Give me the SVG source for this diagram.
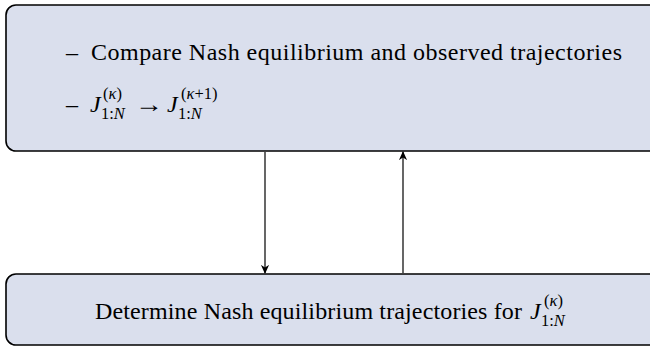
<svg xmlns="http://www.w3.org/2000/svg" width="650" height="346" viewBox="0 0 650 346">
<defs>
<style>
.box{fill:#dadfed;stroke:#000;stroke-width:1.6}
.t{font-family:"Liberation Serif","DejaVu Serif",serif;font-size:24px;fill:#000}
.s{font-size:16.5px}
.i{font-style:italic}
.c{stroke:#000;stroke-width:1.2;fill:none}
</style>
<marker id="ah" viewBox="0 0 10 10" refX="9" refY="5" markerWidth="9" markerHeight="9" markerUnits="userSpaceOnUse" orient="auto">
<path d="M0,0.5 L10,5 L0,9.5 L3,5 Z" fill="#000"/>
</marker>
</defs>
<g id="top">
<rect class="box" x="6" y="5" width="680" height="146" rx="10"/>
<text class="t" x="66" y="60">–</text>
<text class="t" x="91" y="60" textLength="531" lengthAdjust="spacing">Compare Nash equilibrium and observed trajectories</text>
<text class="t" x="66" y="112">–</text>
<text class="t i" x="90" y="112">J</text>
<text class="t s" x="103" y="99">(<tspan class="i">κ</tspan>)</text>
<text class="t s" x="101" y="119">1:<tspan class="i">N</tspan></text>
<text class="t" x="135" y="112" textLength="28" lengthAdjust="spacingAndGlyphs">→</text>
<text class="t i" x="167" y="112">J</text>
<text class="t s" x="181" y="99">(<tspan class="i">κ</tspan>+1)</text>
<text class="t s" x="178" y="119">1:<tspan class="i">N</tspan></text>
</g>
<g id="bottom">
<rect class="box" x="6" y="274" width="680" height="71" rx="10"/>
<text class="t" x="95" y="319" textLength="427" lengthAdjust="spacing">Determine Nash equilibrium trajectories for</text>
<text class="t i" x="530" y="319">J</text>
<text class="t s" x="544" y="306">(<tspan class="i">κ</tspan>)</text>
<text class="t s" x="541" y="326">1:<tspan class="i">N</tspan></text>
</g>
<g id="connectors">
<line class="c" x1="265" y1="152" x2="265" y2="273" marker-end="url(#ah)"/>
<line class="c" x1="403" y1="273" x2="403" y2="152" marker-end="url(#ah)"/>
</g>
</svg>
